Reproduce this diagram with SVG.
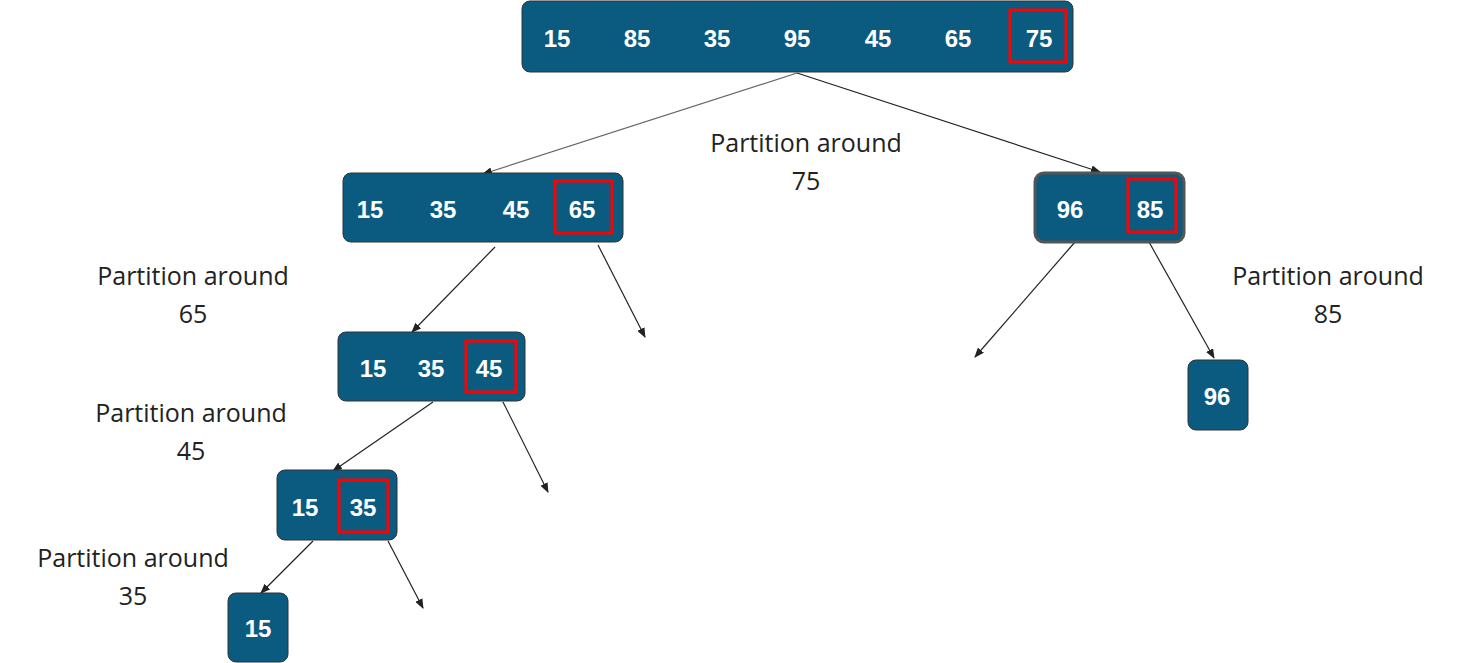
<svg xmlns="http://www.w3.org/2000/svg" width="1461" height="663" viewBox="0 0 1461 663">
<style>
.n{fill:#0b5a80;stroke:#333;stroke-width:1}
.r{fill:none;stroke:#f00;stroke-width:3}
.v{font-family:"Liberation Sans",Arial,sans-serif;font-weight:bold;font-size:24px;fill:#fff;text-anchor:middle;dominant-baseline:central}
.l{font-family:"Open Sans",sans-serif;font-size:25px;fill:#222;text-anchor:middle}
.c{stroke:#222;stroke-width:1.2;fill:none;marker-end:url(#a)}
</style>
<defs><marker id="a" markerWidth="10" markerHeight="8" refX="9" refY="4" orient="auto" markerUnits="userSpaceOnUse"><path d="M0,0L10,4L0,8z" fill="#222"/></marker></defs>
<rect width="1461" height="663" fill="#fff"/>
<g id="connectors">
<line class="c" x1="797" y1="73" x2="483" y2="174" style="stroke:#666"/>
<line class="c" x1="797" y1="73" x2="1100" y2="172"/>
<line class="c" x1="495" y1="247" x2="412" y2="332"/>
<line class="c" x1="598" y1="245" x2="645" y2="337"/>
<line class="c" x1="1075" y1="242" x2="975" y2="357"/>
<line class="c" x1="1149" y1="242" x2="1214" y2="358"/>
<line class="c" x1="433" y1="402" x2="333" y2="471"/>
<line class="c" x1="503" y1="402" x2="548" y2="492"/>
<line class="c" x1="313" y1="541" x2="261" y2="593"/>
<line class="c" x1="388" y1="541" x2="423" y2="608"/>
</g>
<g id="root"><rect class="n" x="522" y="1" width="551" height="71" rx="8"/><rect class="r" x="1010" y="10" width="56" height="52"/>
<text class="v" x="557" y="38">15</text><text class="v" x="637" y="38">85</text><text class="v" x="717" y="38">35</text><text class="v" x="797" y="38">95</text><text class="v" x="878" y="38">45</text><text class="v" x="958" y="38">65</text><text class="v" x="1039" y="38">75</text></g>
<g id="n65"><rect class="n" x="343" y="173" width="280" height="69" rx="8"/><rect class="r" x="555" y="181" width="57" height="52"/>
<text class="v" x="370" y="209">15</text><text class="v" x="443" y="209">35</text><text class="v" x="516" y="209">45</text><text class="v" x="582" y="209">65</text></g>
<g id="n85"><rect class="n" x="1035" y="173" width="149" height="69" rx="9" style="stroke:#555;stroke-width:3"/><rect class="r" x="1128" y="179" width="48" height="53"/>
<text class="v" x="1070" y="209">96</text><text class="v" x="1150" y="209">85</text></g>
<g id="n45"><rect class="n" x="338" y="332" width="187" height="69" rx="8"/><rect class="r" x="466" y="341" width="50" height="51"/>
<text class="v" x="373" y="368">15</text><text class="v" x="431" y="368">35</text><text class="v" x="489" y="368">45</text></g>
<g id="n35"><rect class="n" x="277" y="470" width="120" height="70" rx="8"/><rect class="r" x="339" y="480" width="49" height="52"/>
<text class="v" x="305" y="507">15</text><text class="v" x="363" y="507">35</text></g>
<g id="n15"><rect class="n" x="228" y="593" width="60" height="69" rx="8"/><text class="v" x="258" y="628">15</text></g>
<g id="n96"><rect class="n" x="1188" y="360" width="60" height="70" rx="8"/><text class="v" x="1217" y="396">96</text></g>
<g id="labels">
<text class="l" x="806" y="152">Partition around</text><text class="l" x="806" y="190">75</text>
<text class="l" x="193" y="285">Partition around</text><text class="l" x="193" y="323">65</text>
<text class="l" x="191" y="422">Partition around</text><text class="l" x="191" y="460">45</text>
<text class="l" x="133" y="567">Partition around</text><text class="l" x="133" y="605">35</text>
<text class="l" x="1328" y="285">Partition around</text><text class="l" x="1328" y="323">85</text>
</g>
</svg>
